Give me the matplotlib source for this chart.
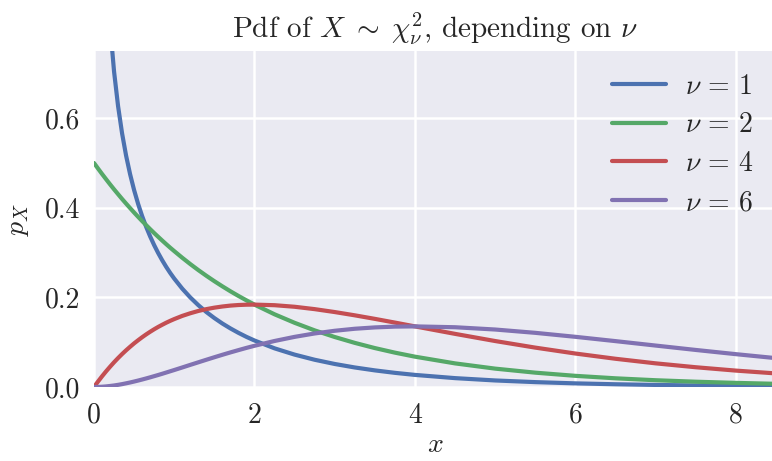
import numpy as np
import matplotlib
matplotlib.use("Agg")
import matplotlib.pyplot as plt
import seaborn as sns

# Values
x = [0, 0.05, 0.1, 0.15, 0.2, 0.25, 0.3, 0.35, 0.4, 0.45, 0.5, 0.55, 0.6, 0.65, 0.7, 0.75,
     0.8, 0.85, 0.9, 0.95, 1.0, 1.1, 1.2, 1.3, 1.4, 1.5, 1.6, 1.7, 1.8, 1.9, 2.0, 2.25, 2.5,
     2.75, 3.0, 3.25, 3.5, 3.75, 4.0, 4.5, 5.0, 5.5, 6.0, 6.5, 7.0, 7.5, 8.0, 8.5]
nus = [1, 2, 4, 6]
pdf_nu1 = [np.nan, 1.7401, 1.2000, 0.9556, 0.8072, 0.7041, 0.6269, 0.5661, 0.5164, 0.4749,
           0.4394, 0.4086, 0.3815, 0.3575, 0.3360, 0.3166, 0.2990, 0.2829, 0.2681, 0.2545,
           0.2420, 0.2195, 0.1999, 0.1827, 0.1674, 0.1539, 0.1417, 0.1308, 0.1209, 0.1119,
           0.1038, 0.0863, 0.0723, 0.0608, 0.0514, 0.0436, 0.0371, 0.0316, 0.0270, 0.0198,
           0.0146, 0.0109, 0.0081, 0.0061, 0.0046, 0.0034, 0.0026, 0.0020]
pdf_nu2 = [0.5, 0.4877, 0.4756, 0.4639, 0.4524, 0.4412, 0.4304, 0.4197, 0.4094, 0.3993,
           0.3894, 0.3798, 0.3704, 0.3613, 0.3523, 0.3436, 0.3352, 0.3269, 0.3188, 0.3109,
           0.3033, 0.2885, 0.2744, 0.2610, 0.2483, 0.2362, 0.2247, 0.2137, 0.2033, 0.1934,
           0.1839, 0.1623, 0.1433, 0.1264, 0.1116, 0.0985, 0.0869, 0.0767, 0.0677, 0.0527,
           0.0410, 0.0320, 0.0249, 0.0194, 0.0151, 0.0118, 0.0092, 0.0071]
pdf_nu4 = [0.0, 0.0122, 0.0238, 0.0348, 0.0452, 0.0552, 0.0646, 0.0735, 0.0819, 0.0898,
           0.0974, 0.1044, 0.1111, 0.1174, 0.1233, 0.1289, 0.1341, 0.1389, 0.1435, 0.1477,
           0.1516, 0.1587, 0.1646, 0.1697, 0.1738, 0.1771, 0.1797, 0.1817, 0.1830, 0.1837,
           0.1839, 0.1826, 0.1791, 0.1738, 0.1673, 0.1600, 0.1521, 0.1438, 0.1353, 0.1186,
           0.1026, 0.0879, 0.0747, 0.0630, 0.0528, 0.0441, 0.0366, 0.0303]
pdf_nu6 = [0.0, 0.00015, 0.00059, 0.0013, 0.0023, 0.0034, 0.0048, 0.0064, 0.0082, 0.0101,
           0.0122, 0.0144, 0.0167, 0.0191, 0.0216, 0.0242, 0.0268, 0.0295, 0.0323, 0.0351,
           0.0379, 0.0436, 0.0494, 0.0551, 0.0608, 0.0664, 0.0719, 0.0772, 0.0823, 0.0873,
           0.0920, 0.1027, 0.1119, 0.1195, 0.1255, 0.1300, 0.1330, 0.1348, 0.1353, 0.1334,
           0.1283, 0.1209, 0.1120, 0.1024, 0.0925, 0.0827, 0.0733, 0.0644]
x_ticks = [0, 2, 4, 6, 8]
y_ticks = [0.0, 0.2, 0.4, 0.6]

sns.set_theme(style="darkgrid")
plt.rcParams['font.family'] = ['cmr10', 'DejaVu Sans']
plt.rcParams['mathtext.fontset'] = 'cm'
plt.rcParams['axes.formatter.use_mathtext'] = True

colors = ['#4C72B0', '#55A868', '#C44E52', '#8172B2']
series = [pdf_nu1, pdf_nu2, pdf_nu4, pdf_nu6]

fig = plt.figure(figsize=(7.72, 4.61), dpi=100)
ax = fig.add_axes([94/772, 1 - 387/461, (776 - 94)/772, (387 - 51)/461])
ax.set_facecolor('#EAEAF2')
for nu, ys, c in zip(nus, series, colors):
    ax.plot(x, ys, color=c, lw=3.0, solid_joinstyle='round', solid_capstyle='round',
            label=r'$\nu\,=\,%d$' % nu)

ax.set_xlim(0, 8.5)
ax.set_ylim(0, 0.75)
ax.set_xticks(x_ticks)
ax.set_yticks(y_ticks)
ax.set_xticklabels([str(t) for t in x_ticks])
ax.set_yticklabels(['%.1f' % t for t in y_ticks])
ax.tick_params(labelsize=20, length=0, colors='#262626')
ax.tick_params(axis='x', pad=11)
ax.tick_params(axis='y', pad=10)
ax.grid(True, color='white', lw=1.8)
for s in ax.spines.values():
    s.set_visible(False)
ax.set_xlabel(r'$x$', fontsize=20, color='#262626', labelpad=2)
ax.set_ylabel(r'$p_X$', fontsize=20, color='#262626', labelpad=10)
ax.set_title(r'Pdf of $X\;\sim\;\chi^2_\nu$, depending on $\nu$', fontsize=21, color='#262626',
             pad=10)
ax.legend(loc='upper right', frameon=False, fontsize=20, handlelength=1.95,
          labelspacing=0.45, borderaxespad=0.4, handletextpad=0.7)

fig.savefig('out.png', dpi=100)
